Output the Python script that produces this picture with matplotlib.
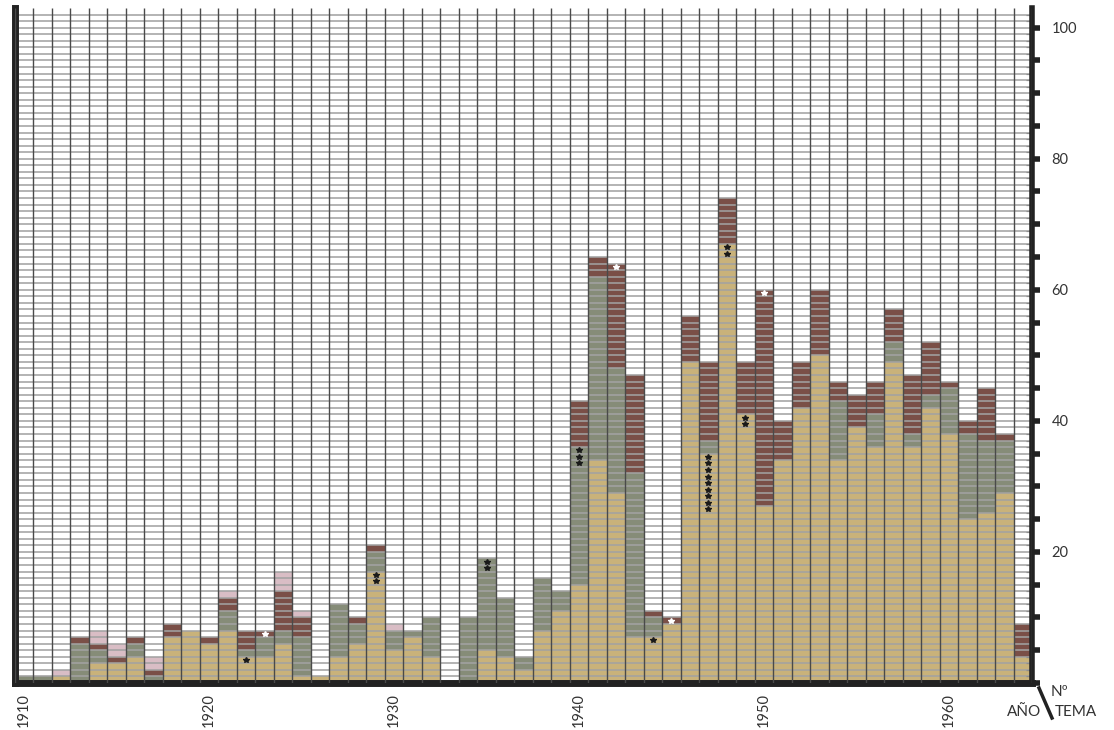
import numpy as np
import matplotlib
matplotlib.use("Agg")
import matplotlib.pyplot as plt

# Themes per year, split by category
years = list(range(1910, 1965))
tan = [0, 0, 1, 0, 3, 3, 4, 0, 7, 8,
       6, 8, 4, 4, 6, 1, 1, 4, 6, 17,
       5, 7, 4, 0, 0, 5, 4, 2, 8, 11,
       15, 34, 29, 7, 7, 9, 49, 35, 67, 41,
       27, 34, 42, 50, 34, 39, 36, 49, 36, 42,
       38, 25, 26, 29, 4]
green = [1, 1, 0, 6, 2, 0, 2, 1, 0, 0,
         0, 3, 1, 3, 2, 6, 0, 8, 3, 3,
         3, 1, 6, 0, 10, 14, 9, 2, 8, 3,
         21, 28, 19, 25, 3, 0, 0, 2, 0, 0,
         0, 0, 0, 0, 9, 0, 5, 3, 2, 2,
         7, 13, 11, 8, 0]
brown = [0, 0, 0, 1, 1, 1, 1, 1, 2, 0,
         1, 2, 3, 1, 6, 3, 0, 0, 1, 1,
         0, 0, 0, 0, 0, 0, 0, 0, 0, 0,
         7, 3, 16, 15, 1, 1, 7, 12, 7, 8,
         33, 6, 7, 10, 3, 5, 5, 5, 9, 8,
         1, 2, 8, 1, 5]
pink = [0, 0, 1, 0, 2, 2, 0, 2, 0, 0,
        0, 1, 0, 0, 3, 1, 0, 0, 0, 0,
        1, 0, 0, 0, 0, 0, 0, 0, 0, 0,
        0, 0, 0, 0, 0, 0, 0, 0, 0, 0,
        0, 0, 0, 0, 0, 0, 0, 0, 0, 0,
        0, 0, 0, 0, 0]

# Starred themes (year, level)
dark_star_years = [1922, 1929, 1929, 1935, 1935, 1940, 1940, 1940, 1944,
                   1947, 1947, 1947, 1947, 1947, 1947, 1947, 1947, 1947,
                   1948, 1948, 1949, 1949]
dark_star_levels = [3.5, 16.5, 15.5, 18.5, 17.5, 35.5, 34.5, 33.5, 6.5,
                    34.5, 33.5, 32.5, 31.5, 30.5, 29.5, 28.5, 27.5, 26.5,
                    66.5, 65.5, 40.5, 39.5]
light_star_years = [1923, 1942, 1945, 1950]
light_star_levels = [7.5, 63.5, 9.5, 59.5]

year_labels = [1910, 1920, 1930, 1940, 1950, 1960]
value_labels = [20, 40, 60, 80, 100]

C_TAN = "#C9B27A"
C_GREEN = "#868C78"
C_BROWN = "#7A4F47"
C_PINK = "#D9BDC5"
TEXT = "#333333"

plt.rcParams["font.family"] = ["Lato", "DejaVu Sans"]

fig = plt.figure(figsize=(11.14, 7.30), dpi=100)
ax = fig.add_axes([15 / 1114, 47 / 730, 1017 / 1114, 675 / 730])

x = np.array(years)
t = np.array(tan)
g = np.array(green)
b = np.array(brown)
p = np.array(pink)

ax.bar(x, t, width=1.0, color=C_TAN, linewidth=0, zorder=1)
ax.bar(x, g, bottom=t, width=1.0, color=C_GREEN, linewidth=0, zorder=1)
ax.bar(x, b, bottom=t + g, width=1.0, color=C_BROWN, linewidth=0, zorder=1)
ax.bar(x, p, bottom=t + g + b, width=1.0, color=C_PINK, linewidth=0, zorder=1)

ymax = 103
# unit rules across the whole sheet
for v in range(1, 103):
    ax.axhline(v, color="#a2a2a2", lw=1.2, alpha=0.95, zorder=2)
# year separators
ax.vlines(np.arange(1909.5, 1965.0, 1.0), 0, ymax, color="#4a4a4a",
          lw=1.0, zorder=3)

ax.plot(dark_star_years, dark_star_levels, ls="none", marker="*",
        ms=4, color="#1a1a1a", zorder=4)
ax.plot(light_star_years, light_star_levels, ls="none", marker="*",
        ms=4, color="white", zorder=4)

ax.set_xlim(1909.5, 1964.5)
ax.set_ylim(0, ymax)

for side in ("left", "bottom", "right"):
    ax.spines[side].set_color("#222222")
ax.spines["left"].set_linewidth(5)
ax.spines["bottom"].set_linewidth(5)
ax.spines["right"].set_linewidth(4)
ax.spines["top"].set_visible(False)

ax.set_xticks(year_labels)
ax.set_xticklabels([str(y) for y in year_labels], rotation=90,
                   fontsize=10.5, color=TEXT)
ax.tick_params(axis="x", length=0, pad=7)

ax.yaxis.tick_right()
ax.set_yticks(list(range(0, 101, 5)))
ax.set_yticklabels([str(v) if v in value_labels else "" for v in range(0, 101, 5)],
                   fontsize=10.5, color=TEXT)
ax.set_yticks(list(range(0, 103)), minor=True)
ax.tick_params(axis="y", which="major", direction="out", length=6, width=4,
               color="#222222", pad=8)
ax.tick_params(axis="y", which="minor", direction="in", length=4, width=0.8,
               color="#444444")
ax.tick_params(axis="y", which="both", left=False)

# corner legend for the two axes
fig.text(1024 / 1114, 1 - 712 / 730, "AÑO", ha="center", va="center",
         fontsize=11, color=TEXT)
fig.text(1076 / 1114, 1 - 712 / 730, "TEMA", ha="center", va="center",
         fontsize=11, color=TEXT)
fig.text(1060 / 1114, 1 - 692 / 730, "Nº", ha="center", va="center",
         fontsize=11, color=TEXT)
fig.add_artist(plt.Line2D([1039 / 1114, 1052 / 1114],
                          [1 - 688 / 730, 1 - 718 / 730],
                          color="#222222", lw=2.5))

fig.savefig("out.png", dpi=100)
